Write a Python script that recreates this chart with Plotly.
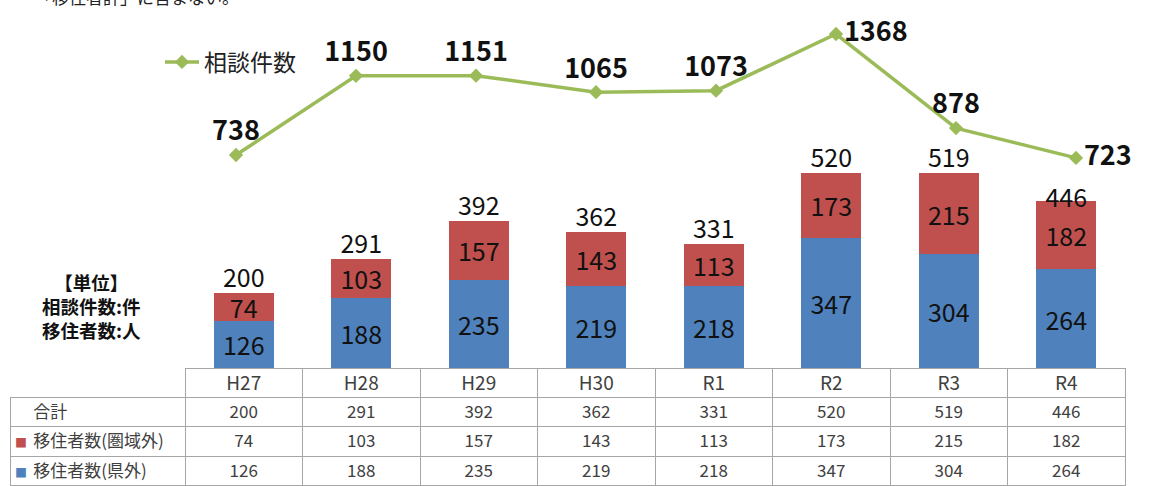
import plotly.graph_objects as go

categories = ["H27", "H28", "H29", "H30", "R1", "R2", "R3", "R4"]
kengai = [126, 188, 235, 219, 218, 347, 304, 264]        # 移住者数(県外)
kengaiki = [74, 103, 157, 143, 113, 173, 215, 182]       # 移住者数(圏域外)
totals = [200, 291, 392, 362, 331, 520, 519, 446]        # 合計
soudan = [738, 1150, 1151, 1065, 1073, 1368, 878, 723]   # 相談件数
row_labels = ["合計", "移住者数(圏域外)", "移住者数(県外)"]

W, H = 1154, 486
BLUE = "#4F81BD"
RED = "#C0504D"
GREEN = "#9BBB59"
JP = "Noto Sans CJK JP"

def px(x):
    return x / W

def py(y):
    return 1 - y / H

fig = go.Figure()

seg_font = dict(size=25, color="#111", family=JP)
fig.add_trace(go.Bar(
    x=categories, y=kengai, name=row_labels[2], marker=dict(color=BLUE, line=dict(width=0)),
    text=[str(v) for v in kengai], textposition="inside", insidetextanchor="middle",
    textangle=0, textfont=seg_font, constraintext="none",
    showlegend=False, xaxis="x", yaxis="y"))
fig.add_trace(go.Bar(
    x=categories, y=kengaiki, name=row_labels[1], marker=dict(color=RED, line=dict(width=0)),
    text=[str(v) for v in kengaiki], textposition="inside", insidetextanchor="middle",
    textangle=0, textfont=seg_font, constraintext="none",
    showlegend=False, xaxis="x", yaxis="y"))
fig.add_trace(go.Scatter(
    x=categories, y=totals, mode="text", text=[str(v) for v in totals],
    textposition=["top center"] * 7 + ["middle center"],
    textfont=seg_font, showlegend=False,
    cliponaxis=False, xaxis="x", yaxis="y"))

fig.add_trace(go.Scatter(
    x=list(range(len(categories))), y=soudan, mode="lines+markers+text", name="相談件数",
    line=dict(color=GREEN, width=3.5), marker=dict(symbol="diamond", size=11, color=GREEN),
    text=[str(v) for v in soudan],
    textposition=["top center"] * 5 + ["middle right", "top center", "middle right"],
    textfont=dict(size=27, color="#111", family=JP, weight="bold"),
    cliponaxis=False, showlegend=True, xaxis="x2", yaxis="y2"))

# Tables
line_col = "#A6A6A6"
txt_col = "#404040"
pad = "\u00a0\u00a0\u00a0\u00a0"
fig.add_trace(go.Table(
    domain=dict(x=[px(185), px(1125)], y=[py(397), py(368)]),
    columnwidth=[1] * 8,
    header=dict(values=categories, height=29, align="center",
                line=dict(color=line_col, width=1), fill=dict(color="white"),
                font=dict(size=19, color=txt_col, family=JP)),
    cells=dict(values=[[] for _ in categories])))

fig.add_trace(go.Table(
    domain=dict(x=[px(10), px(1125)], y=[0, py(397)]),
    columnwidth=[175] + [117.5] * 8,
    header=dict(values=[pad + row_labels[0]] + [str(t) for t in totals], height=29.6,
                align=["left"] + ["center"] * 8,
                line=dict(color=line_col, width=1), fill=dict(color="white"),
                font=dict(size=17, color=txt_col, family=JP)),
    cells=dict(values=[[pad + row_labels[1], pad + row_labels[2]]] +
                      [[str(r), str(b)] for r, b in zip(kengaiki, kengai)],
               height=29.6,
               align=["left"] + ["center"] * 8,
               line=dict(color=line_col, width=1), fill=dict(color="white"),
               font=dict(size=17, color=txt_col, family=JP))))

fig.update_layout(
    width=W, height=H, autosize=False,
    margin=dict(l=0, r=0, t=0, b=0),
    paper_bgcolor="white", plot_bgcolor="rgba(0,0,0,0)",
    barmode="stack", bargap=0.49,
    xaxis=dict(domain=[px(185), px(1125)], range=[-0.5, 7.5], visible=False,
               showgrid=False, zeroline=False),
    yaxis=dict(domain=[py(368), 1], range=[0, 368 / 0.375], visible=False,
               showgrid=False, zeroline=False),
    xaxis2=dict(overlaying="x", range=[-(236 - 185) / 120, (1125 - 236) / 120],
                visible=False, showgrid=False, zeroline=False),
    yaxis2=dict(overlaying="y", range=[-371, 1545], visible=False,
                showgrid=False, zeroline=False),
    legend=dict(x=px(160), y=py(62), xanchor="left", yanchor="middle",
                bgcolor="rgba(0,0,0,0)", font=dict(size=23, color="#222", family=JP),
                itemwidth=34),
    annotations=[
        dict(text="【単位】<br>相談件数:件<br>移住者数:人", x=px(91), y=py(306),
             xref="paper", yref="paper", showarrow=False, align="center",
             xanchor="center", yanchor="middle",
             font=dict(size=18.5, color="#111", family=JP, weight="bold")),
        dict(text="「移住者計」に含まない。", x=px(33), y=py(-3),
             xref="paper", yref="paper", showarrow=False, xanchor="left",
             yanchor="middle", font=dict(size=17, color="#222", family=JP)),
        dict(text="■", x=px(21), y=py(442), xref="paper", yref="paper",
             xanchor="center", yanchor="middle",
             showarrow=False, font=dict(size=12, color=RED, family=JP)),
        dict(text="■", x=px(21), y=py(472), xref="paper", yref="paper",
             xanchor="center", yanchor="middle",
             showarrow=False, font=dict(size=12, color=BLUE, family=JP)),
    ],
)

fig.write_html("out.html")
